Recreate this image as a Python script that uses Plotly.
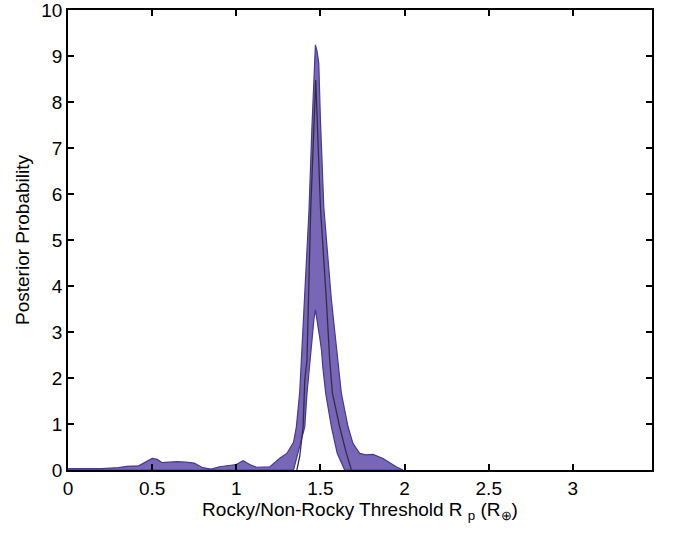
import plotly.graph_objects as go

# Upper envelope of the posterior band
x_upper = [0.0, 0.1, 0.2, 0.3, 0.35, 0.42, 0.47, 0.5, 0.53, 0.56, 0.6, 0.65, 0.7, 0.75,
           0.8, 0.85, 0.9, 0.95, 1.0, 1.04, 1.08, 1.12, 1.2, 1.26, 1.3, 1.34, 1.357,
           1.377, 1.387, 1.4, 1.432, 1.45, 1.462, 1.47, 1.48, 1.49, 1.5, 1.52, 1.565,
           1.604, 1.624, 1.664, 1.693, 1.733, 1.77, 1.812, 1.872, 1.95, 1.99]
y_upper = [0.03, 0.03, 0.03, 0.05, 0.08, 0.09, 0.18, 0.25, 0.23, 0.16, 0.17, 0.18, 0.17, 0.15,
           0.05, 0.02, 0.07, 0.1, 0.12, 0.2, 0.12, 0.06, 0.07, 0.26, 0.36, 0.6, 0.94,
           1.7, 2.39, 3.3, 5.65, 7.5, 8.8, 9.24, 9.1, 8.84, 7.6, 5.7, 3.7,
           2.39, 1.67, 0.94, 0.58, 0.36, 0.33, 0.34, 0.25, 0.07, 0.0]

# Lower envelope of the posterior band
x_lower = [0.0, 1.34, 1.37, 1.407, 1.42, 1.432, 1.446, 1.462, 1.47, 1.48, 1.495, 1.506,
           1.515, 1.531, 1.565, 1.6, 1.644, 1.99]
y_lower = [0.0, 0.0, 0.4, 0.94, 1.67, 2.2, 2.7, 3.3, 3.48, 3.3, 2.9, 2.61,
           2.2, 1.67, 0.94, 0.36, 0.0, 0.0]

# Median curve
x_median = [1.36, 1.377, 1.397, 1.407, 1.42, 1.442, 1.472, 1.5, 1.535, 1.555, 1.571,
            1.614, 1.654, 1.684]
y_median = [0.0, 0.3, 0.94, 1.96, 2.39, 5.65, 8.48, 5.7, 3.7, 2.39, 1.67,
            0.94, 0.36, 0.0]

x_ticks = [0, 0.5, 1, 1.5, 2, 2.5, 3]
x_tick_labels = ["0", "0.5", "1", "1.5", "2", "2.5", "3"]
y_ticks = list(range(0, 11))

poly_x = x_upper + x_lower[::-1]
poly_y = y_upper + y_lower[::-1]

FONT = "Liberation Sans, Arial, sans-serif"

fig = go.Figure()
fig.add_trace(go.Scatter(
    x=poly_x, y=poly_y, mode="lines", fill="toself",
    fillcolor="rgb(120,102,182)",
    line=dict(color="rgb(72,56,152)", width=1.2),
    hoverinfo="skip", showlegend=False,
))
fig.add_trace(go.Scatter(
    x=x_median, y=y_median, mode="lines",
    line=dict(color="rgb(50,45,70)", width=1.3),
    showlegend=False,
))

axis_common = dict(
    showgrid=False, zeroline=False, showline=True, linecolor="black", linewidth=1.5,
    mirror="ticks", ticks="inside", ticklen=6, tickwidth=2, tickcolor="black",
    tickfont=dict(family=FONT, size=19, color="black"),
    automargin=False, ticklabeloverflow="allow",
)

fig.update_layout(
    width=673, height=536,
    margin=dict(l=68, r=21, t=10, b=66),
    paper_bgcolor="white", plot_bgcolor="white",
    xaxis=dict(range=[0, 3.47], tickvals=x_ticks, ticktext=x_tick_labels,
               title=dict(text="Rocky/Non-Rocky Threshold R <sub>p</sub> (R<sub>⊕</sub>)",
                          font=dict(family=FONT, size=19, color="black"),
                          standoff=5),
               **axis_common),
    yaxis=dict(range=[0, 10], tickvals=y_ticks,
               title=dict(text="Posterior Probability",
                          font=dict(family=FONT, size=19, color="black"),
                          standoff=7),
               **axis_common),
)

fig.write_html("out.html",
               config={"displayModeBar": False},
               post_script="document.body.style.margin='0';document.body.style.overflow='hidden';")
